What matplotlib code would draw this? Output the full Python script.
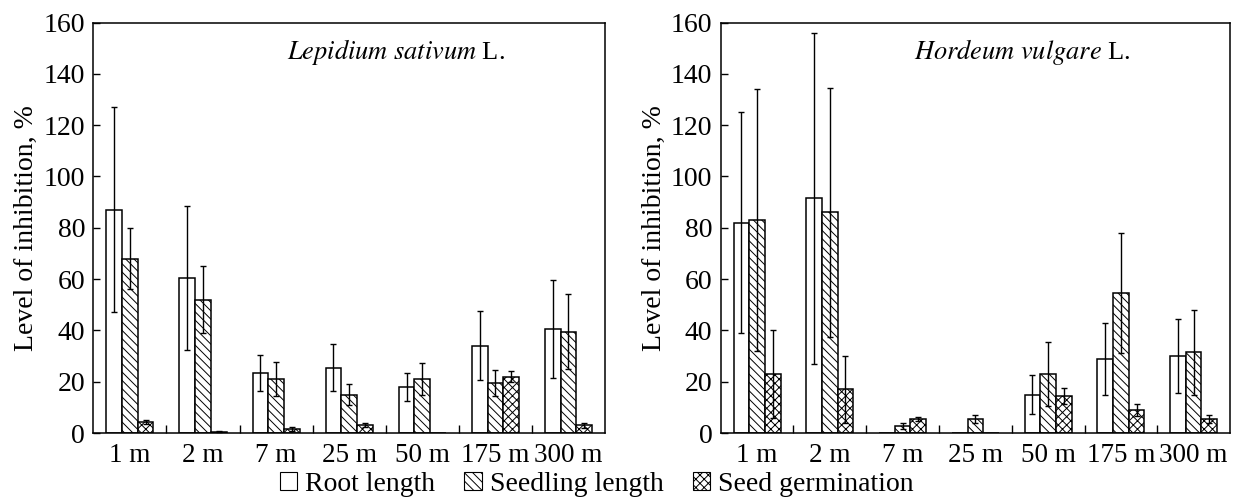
import matplotlib
matplotlib.use("Agg")
import matplotlib.pyplot as plt
import numpy as np
from matplotlib.patches import Patch

categories = ["1 m", "2 m", "7 m", "25 m", "50 m", "175 m", "300 m"]

# Lepidium sativum L.
lep_root = [87, 60.5, 23.5, 25.5, 18, 34, 40.5]
lep_root_err = [40, 28, 7, 9, 5.5, 13.5, 19]
lep_seedling = [68, 52, 21, 15, 21, 19.5, 39.5]
lep_seedling_err = [12, 13, 6.5, 4, 6.2, 5, 14.5]
lep_germ = [4.3, 0.4, 1.5, 3, 0, 22, 3]
lep_germ_err = [0.8, 0.2, 0.8, 0.8, 0, 2.3, 0.9]

# Hordeum vulgare L.
hor_root = [82, 91.5, 0, 0, 15, 29, 30]
hor_root_err = [43, 64.5, 0, 0, 7.5, 14, 14.5]
hor_seedling = [83, 86, 2.7, 5.5, 23, 54.5, 31.5]
hor_seedling_err = [51, 48.5, 1.3, 1.5, 12.5, 23.5, 16.5]
hor_germ = [23, 17, 5.5, 0, 14.5, 9, 5.5]
hor_germ_err = [17, 13, 0.7, 0, 3, 2.5, 1.5]

series_labels = ["Root length", "Seedling length", "Seed germination"]
hatches = [None, "\\\\\\\\", "xxxx"]

plt.rcParams["font.family"] = ["Liberation Serif", "DejaVu Serif"]
plt.rcParams["mathtext.fontset"] = "stix"
plt.rcParams["hatch.linewidth"] = 0.7
FS = 20

fig = plt.figure(figsize=(12.33, 4.98), dpi=100)
ax1 = fig.add_axes([0.0757, 0.1305, 0.4150, 0.8243])
ax2 = fig.add_axes([0.5845, 0.1305, 0.4131, 0.8243])

W = 0.215


def draw(ax, data, errs, title):
    x = np.arange(len(categories))
    for i, (vals, err) in enumerate(zip(data, errs)):
        pos = x + (i - 1) * W
        vals = np.asarray(vals, float)
        err = np.asarray(err, float)
        ax.bar(pos, vals, W, color="white", edgecolor="black", linewidth=1.1,
               hatch=hatches[i], zorder=2)
        m = vals > 0
        ax.errorbar(pos[m], vals[m], yerr=err[m], fmt="none", ecolor="black",
                    elinewidth=1.0, capsize=2.5, capthick=1.0, zorder=3)
    ax.set_xlim(-0.5, len(categories) - 0.5)
    ax.set_ylim(0, 160)
    ax.set_yticks(np.arange(0, 161, 20))
    ax.set_xticks(x)
    ax.set_xticklabels(categories, fontsize=19.5)
    ax.set_xticks(np.arange(0.5, len(categories) - 1, 1), minor=True)
    ax.tick_params(axis="x", which="major", length=0, pad=7)
    ax.tick_params(axis="x", which="minor", direction="in", length=6, width=1)
    ax.tick_params(axis="y", which="major", direction="in", length=5, width=1,
                   labelsize=FS, pad=6, right=False)
    for s in ax.spines.values():
        s.set_linewidth(1.1)
    ax.set_ylabel("Level of inhibition, %", fontsize=FS, labelpad=3)
    ax.text(0.592, 0.9275, title, transform=ax.transAxes, fontsize=19,
            ha="center", va="center")


draw(ax1, [lep_root, lep_seedling, lep_germ],
     [lep_root_err, lep_seedling_err, lep_germ_err],
     r"$\it{Lepidium\ sativum}$ L.")
draw(ax2, [hor_root, hor_seedling, hor_germ],
     [hor_root_err, hor_seedling_err, hor_germ_err],
     r"$\it{Hordeum\ vulgare}$ L.")

handles = [Patch(facecolor="white", edgecolor="black", hatch=h, linewidth=0.8)
           for h in hatches]
fig.legend(handles, series_labels, loc="center", bbox_to_anchor=(0.484, 0.027),
           ncol=3, frameon=False, fontsize=FS, handlelength=0.62,
           handleheight=0.62, handletextpad=0.3, columnspacing=1.05,
           borderpad=0)

fig.savefig("out.png", dpi=100)
